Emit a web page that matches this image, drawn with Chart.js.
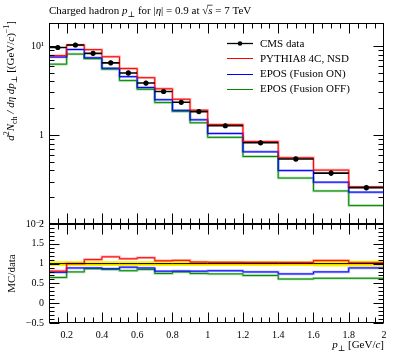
<!DOCTYPE html>
<html><head><meta charset="utf-8">
<script src="https://cdn.jsdelivr.net/npm/chart.js@4/dist/chart.umd.min.js"></script>
<style>html,body{margin:0;padding:0;background:#fff}canvas{display:block}</style>
</head><body>
<canvas id="c" width="397" height="358"></canvas>
<script>
// ---- data ----
const binEdges = [0.1,0.2,0.3,0.4,0.5,0.6,0.7,0.8,0.9,1.0,1.2,1.4,1.6,1.8,2.0];
const cmsData  = [9.6,10.25,8.26,6.46,4.97,3.83,3.08,2.33,1.83,1.27,0.818,0.538,0.373,0.256];
const cmsErr   = [0.58,0.6,0.5,0.39,0.3,0.23,0.185,0.14,0.11,0.076,0.05,0.033,0.027,0.018];
const pythia4C = [7.78,10.25,9.09,7.56,5.57,4.40,3.30,2.52,1.90,1.31,0.843,0.554,0.403,0.261];
const eposOn   = [7.49,9.12,7.35,5.62,4.52,3.41,2.49,1.89,1.48,1.04,0.646,0.398,0.295,0.228];
const eposOff  = [6.24,8.10,7.19,5.49,4.08,3.26,2.31,1.84,1.37,0.94,0.573,0.328,0.235,0.161];
const legendLabels = ['CMS data','PYTHIA8 4C, NSD','EPOS (Fusion ON)','EPOS (Fusion OFF)'];
const xTickValues = [0.2,0.4,0.6,0.8,1,1.2,1.4,1.6,1.8,2];
const xTickLabels = ['0.2','0.4','0.6','0.8','1','1.2','1.4','1.6','1.8','2'];
const yMainTickValues = [0.1,1,10];
const yMainTickLabels = ['10\u207B\u00B9','1','10\u00B9'];
const yRatioTickValues = [-0.5,0,0.5,1,1.5,2];
const yRatioTickLabels = ['\u22120.5','0','0.5','1','1.5','2'];

// ---- styles ----
const SERIF = '"Liberation Serif", "DejaVu Serif", serif';
const RED = '#ff0000', BLUE = '#0000ff', GREEN = '#008c00';
const RED_L = 'rgba(255,0,0,0.35)', BLUE_L = 'rgba(0,0,255,0.35)', GREEN_L = 'rgba(0,140,0,0.35)';

// ---- helpers building library datasets ----
const mkSteps = vals => { const p = vals.map((v,i)=>({x:binEdges[i],y:v})); p.push({x:binEdges[vals.length],y:vals[vals.length-1]}); return p; };
const stepDS = (vals,color,w,axis,extra) => Object.assign({type:'line',data:mkSteps(vals),yAxisID:axis,borderColor:color,borderWidth:w,stepped:true,pointRadius:0,fill:false,tension:0}, extra||{});
const ratio = mc => mc.map((v,i)=>v/cmsData[i]);
const xErrPts = []; cmsData.forEach((v,i)=>{ xErrPts.push({x:binEdges[i],y:v},{x:binEdges[i+1],y:v},{x:binEdges[i+1],y:null}); });
const yErrPts = []; cmsData.forEach((v,i)=>{ const c=(binEdges[i]+binEdges[i+1])/2; yErrPts.push({x:c,y:v-cmsErr[i]},{x:c,y:v+cmsErr[i]},{x:c,y:null}); });
const ptPts = cmsData.map((v,i)=>({x:(binEdges[i]+binEdges[i+1])/2,y:v}));

const datasets = [
  {type:'line',data:ptPts,yAxisID:'y',showLine:false,pointRadius:2.6,pointBackgroundColor:'#000',pointBorderColor:'#000',pointBorderWidth:0},
  {type:'line',data:xErrPts,yAxisID:'y',borderColor:'#000',borderWidth:1.6,pointRadius:0,spanGaps:false},
  {type:'line',data:yErrPts,yAxisID:'y',borderColor:'#000',borderWidth:1.2,pointRadius:0,spanGaps:false},
  stepDS(ratio(cmsData),'#000',1,'yr'),
  stepDS(pythia4C,RED,1,'y'),
  stepDS(eposOn,BLUE,1,'y'),
  stepDS(eposOff,GREEN,1,'y'),
  stepDS(pythia4C,RED_L,2.5,'y'),
  stepDS(eposOn,BLUE_L,2.5,'y'),
  stepDS(eposOff,GREEN_L,2.5,'y'),
  stepDS(ratio(pythia4C),RED,1,'yr'),
  stepDS(ratio(eposOn),BLUE,1,'yr'),
  stepDS(ratio(eposOff),GREEN,1,'yr'),
  stepDS(ratio(pythia4C),RED_L,2.5,'yr'),
  stepDS(ratio(eposOn),BLUE_L,2.5,'yr'),
  stepDS(ratio(eposOff),GREEN_L,2.5,'yr'),
  stepDS(cmsData.map((v,i)=>1+cmsErr[i]/v),'rgba(0,0,0,0)',0,'yr'),
  stepDS(cmsData.map((v,i)=>1-cmsErr[i]/v),'rgba(0,0,0,0)',0,'yr',{fill:'-1',backgroundColor:'rgb(255,240,0)'})
];

// ---- rich text ----
function richText(ctx, segs, x, y, align, fs) {
  const fontFor = s => `${s.i?'italic ':''}${s.s?Math.round(fs*0.72):fs}px ${SERIF}`;
  let w = 0; segs.forEach(s=>{ctx.font=fontFor(s); s.w=ctx.measureText(s.t).width; w+=s.w;});
  let cx = align==='right' ? x-w : align==='center' ? x-w/2 : x;
  ctx.textAlign='left'; ctx.textBaseline='alphabetic'; ctx.fillStyle='#000';
  segs.forEach(s=>{
    ctx.font=fontFor(s);
    const dy = s.s==='sub' ? fs*0.25 : s.s==='sup' ? -fs*0.42 : 0;
    ctx.fillText(s.t, cx, y+dy);
    if (s.o) { ctx.save(); ctx.lineWidth=0.7; ctx.strokeStyle='#000'; ctx.beginPath(); ctx.moveTo(cx-1,y-fs*0.8); ctx.lineTo(cx+s.w,y-fs*0.8); ctx.stroke(); ctx.restore(); }
    cx += s.w;
  });
}

const textPlugin = {
  id:'texts',
  afterDraw(chart){
    const ctx = chart.ctx; const xs = chart.scales.x; const ym = chart.scales.y; const yr = chart.scales.yr;
    ctx.save();
    richText(ctx,[{t:'Charged hadron '},{t:'p',i:1},{t:'\u22A5',s:'sub'},{t:' for |'},{t:'\u03B7',i:1},{t:'| = 0.9 at '},{t:'\u221A'},{t:'s',i:1,o:1},{t:' = 7 TeV'}], xs.left, 14, 'left', 11);
    richText(ctx,[{t:'p',i:1},{t:'\u22A5',s:'sub'},{t:' [GeV/'},{t:'c',i:1},{t:']'}], xs.right, 348, 'right', 11);
    ctx.save(); ctx.translate(14, ym.top-2); ctx.rotate(-Math.PI/2);
    richText(ctx,[{t:'d',i:1},{t:'2',s:'sup'},{t:'N',i:1},{t:'ch',s:'sub'},{t:' / d',i:1},{t:'\u03B7',i:1},{t:' d',i:1},{t:'p',i:1},{t:'\u22A5',s:'sub'},{t:' [(GeV/'},{t:'c',i:1},{t:')'},{t:'\u22121',s:'sup'},{t:']'}], 0, 0, 'right', 11);
    ctx.restore();
    ctx.save(); ctx.translate(15, (yr.top+yr.bottom)/2); ctx.rotate(-Math.PI/2);
    richText(ctx,[{t:'MC/data'}], 0, 0, 'center', 11);
    ctx.restore();
    const cols = ['#000',RED,BLUE,GREEN];
    legendLabels.forEach((lab,i)=>{
      const yy = 43 + i*15.3;
      ctx.strokeStyle = cols[i]; ctx.lineWidth = i===0?1.3:1;
      ctx.beginPath(); ctx.moveTo(227,Math.round(yy)+0.5); ctx.lineTo(253,Math.round(yy)+0.5); ctx.stroke();
      if (i===0) { ctx.fillStyle='#000'; ctx.beginPath(); ctx.arc(240,Math.round(yy)+0.5,2.3,0,Math.PI*2); ctx.fill(); }
      richText(ctx,[{t:lab}],260,yy+3.5,'left',11);
    });
    ctx.restore();
  }
};

function ln(ctx,x1,y1,x2,y2){ctx.beginPath();ctx.moveTo(x1,y1);ctx.lineTo(x2,y2);ctx.stroke();}
const framePlugin = {
  id:'frame',
  afterDatasetsDraw(chart){
    const ctx = chart.ctx, xs = chart.scales.x, ym = chart.scales.y, yr = chart.scales.yr;
    ctx.save(); ctx.strokeStyle='#000'; ctx.lineWidth=1;
    const L = Math.round(xs.left)+0.5, R = Math.round(xs.right)-0.5;
    const xMinor = []; for (let k=2;k<=40;k++) xMinor.push(k*0.05);
    const panels = [
      {sc:ym, major:yMainTickValues, minor:(()=>{const a=[];[0.1,1,10].forEach(d=>{for(let k=2;k<=9;k++) a.push(k*d);});return a;})()},
      {sc:yr, major:yRatioTickValues, minor:(()=>{const a=[];for(let k=-4;k<20;k++) a.push(k*0.1);return a;})()}
    ];
    panels.forEach(p=>{
      const T = Math.round(p.sc.top)+0.5, B = Math.round(p.sc.bottom)-0.5;
      ctx.strokeRect(L,T,R-L,B-T);
      const yTick = (v,len)=>{ if (v<p.sc.min-1e-9||v>p.sc.max+1e-9) return; const y=Math.round(p.sc.getPixelForValue(v))+0.5; ln(ctx,L,y,L+len,y); ln(ctx,R,y,R-len,y); };
      p.minor.forEach(v=>yTick(v,5)); p.major.forEach(v=>yTick(v,10));
      const xTick = (v,len)=>{ const x=Math.round(xs.getPixelForValue(v))+0.5; if(x<L||x>R) return; ln(ctx,x,T,x,T+len); ln(ctx,x,B,x,B-len); };
      xMinor.forEach(v=>xTick(v,5)); xTickValues.forEach(v=>xTick(v,10));
    });
    ctx.restore();
  }
};

new Chart(document.getElementById('c'), {
  data:{datasets},
  options:{
    responsive:false, animation:false, devicePixelRatio:1, events:[],
    layout:{padding:{left:0,top:23,right:13,bottom:0}},
    plugins:{legend:{display:false},tooltip:{enabled:false}},
    scales:{
      x:{type:'linear',position:'bottom',min:0.1,max:2.0,
         grid:{display:false,drawTicks:false},border:{display:false},
         afterBuildTicks:s=>{s.ticks=xTickValues.map(v=>({value:v}));},
         afterFit:s=>{s.height=35;},
         ticks:{autoSkip:false,maxRotation:0,padding:6,color:'#000',font:{family:SERIF,size:10},callback:(v,i)=>xTickLabels[i]}},
      yr:{type:'linear',position:'left',stack:'panels',stackWeight:99,min:-0.5,max:2,
         grid:{display:false,drawTicks:false},border:{display:false},
         afterBuildTicks:s=>{s.ticks=yRatioTickValues.map(v=>({value:v}));},
         afterFit:s=>{s.width=49;},
         ticks:{autoSkip:false,padding:5,color:'#000',font:{family:SERIF,size:10},callback:(v,i)=>yRatioTickLabels[i]}},
      y:{type:'logarithmic',position:'left',stack:'panels',stackWeight:201,min:0.1,max:18.1,
         grid:{display:false,drawTicks:false},border:{display:false},
         afterBuildTicks:s=>{s.ticks=yMainTickValues.map(v=>({value:v}));},
         afterFit:s=>{s.width=49;},
         ticks:{autoSkip:false,padding:5,color:'#000',font:{family:SERIF,size:10},callback:(v,i)=>yMainTickLabels[i]}}
    }
  },
  plugins:[framePlugin,textPlugin]
});
</script>
</body></html>
